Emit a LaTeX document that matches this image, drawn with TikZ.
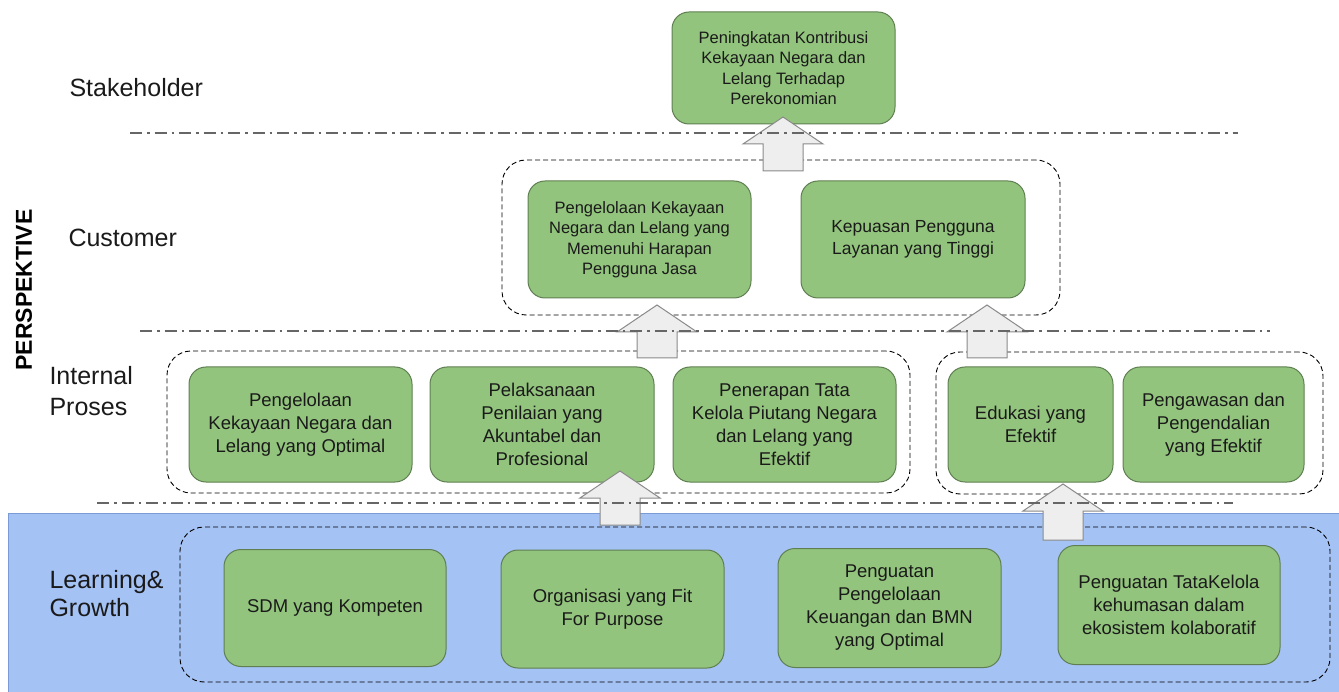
\documentclass[tikz,border=0pt]{standalone}
\usepackage{fontspec}
\setmainfont{Liberation Sans}
\usetikzlibrary{calc}
\definecolor{gfill}{HTML}{93C47D}
\definecolor{gline}{HTML}{5F7F52}
\definecolor{bfill}{HTML}{A4C2F4}
\definecolor{bline}{HTML}{7A9BD6}
\definecolor{afill}{HTML}{EEEEEE}
\definecolor{aline}{HTML}{8A8A8A}
\definecolor{ddline}{HTML}{666666}
\definecolor{txt}{HTML}{1A1A1A}
\tikzset{
  gbox/.style={draw=gline, fill=gfill, line width=1pt, rounded corners=17pt, align=center, text=txt, inner sep=0pt},
  grp/.style={draw=black, dash pattern=on 5pt off 3pt, line width=0.9pt, rounded corners=24pt, inner sep=0pt},
  lvl/.style={anchor=west, align=left, text=txt, font=\fontsize{25}{31}\selectfont},
  sepline/.style={draw=ddline, line width=2.6pt, dash pattern=on 12pt off 5pt on 2.5pt off 5pt},
  blk/.style={draw=aline, fill=afill, line width=1pt, line join=miter},
  fA/.style={font=\fontsize{16.5}{20.5}\selectfont},
  fB/.style={font=\fontsize{17.5}{22}\selectfont},
  fC/.style={font=\fontsize{18.5}{23}\selectfont},
}
\newcommand{\blockup}[2]{%
  \draw[blk] ([xshift=-20pt]#1) -- ([shift={(-20pt,-27pt)}]#2) -- ([shift={(-40pt,-27pt)}]#2) -- (#2)
    -- ([shift={(40pt,-27pt)}]#2) -- ([shift={(20pt,-27pt)}]#2) -- ([xshift=20pt]#1) -- cycle;}
\begin{document}
\begin{tikzpicture}[x=1pt,y=-1pt]
\path[use as bounding box] (0,0) rectangle (1339,692);
% learning band
\fill[bfill] (8,513) rectangle (1339,692);
\draw[bline, line width=1pt] (1339,513) -- (8,513) -- (8,692);

% groups
\node[grp, minimum width=558pt, minimum height=155pt] (cgrp) at (781,237.5) {};
\node[grp, minimum width=743pt, minimum height=142pt] (igrp1) at (538.5,422) {};
\node[grp, minimum width=387pt, minimum height=142pt] (igrp2) at (1129.5,423) {};
\node[grp, minimum width=1150pt, minimum height=155pt] (lgrp) at (755,604.5) {};

% boxes
\node[gbox, fA, minimum width=223pt, minimum height=112pt] (top) at (783.5,68)
  {Peningkatan Kontribusi\\Kekayaan Negara dan\\Lelang Terhadap\\Perekonomian};
\node[gbox, fA, minimum width=223pt, minimum height=117pt] (cA) at (639.5,239.5)
  {Pengelolaan Kekayaan\\Negara dan Lelang yang\\Memenuhi Harapan\\Pengguna Jasa};
\node[gbox, fB, minimum width=224pt, minimum height=117pt] (cB) at (913,239.5)
  {Kepuasan Pengguna\\Layanan yang Tinggi};

\node[gbox, fC, minimum width=223pt, minimum height=115pt] (b1) at (300.5,424.5)
  {Pengelolaan\\Kekayaan Negara dan\\Lelang yang Optimal};
\node[gbox, fC, minimum width=224pt, minimum height=115pt] (b2) at (542,424.5)
  {Pelaksanaan\\Penilaian yang\\Akuntabel dan\\Profesional};
\node[gbox, fC, minimum width=223pt, minimum height=115pt] (b3) at (784.5,424.5)
  {Penerapan Tata\\Kelola Piutang Negara\\dan Lelang yang\\Efektif};
\node[gbox, fC, minimum width=165pt, minimum height=115pt] (b4) at (1030.5,424.5)
  {Edukasi yang\\Efektif};
\node[gbox, fC, minimum width=181pt, minimum height=115pt] (b5) at (1213.5,424.5)
  {Pengawasan dan\\Pengendalian\\yang Efektif};

\node[gbox, fC, minimum width=222pt, minimum height=117pt] (l1) at (335,608)
  {SDM yang Kompeten};
\node[gbox, fC, minimum width=223pt, minimum height=118pt] (l2) at (612.5,609)
  {Organisasi yang Fit\\For Purpose};
\node[gbox, fC, minimum width=223pt, minimum height=119pt] (l3) at (889.5,608)
  {Penguatan\\Pengelolaan\\Keuangan dan BMN\\yang Optimal};
\node[gbox, fC, minimum width=222pt, minimum height=119pt] (l4) at (1169,605)
  {Penguatan TataKelola\\kehumasan dalam\\ekosistem kolaboratif};

% level labels
\node[lvl] (lstake) at (66,88) {Stakeholder};
\node[lvl] (lcust) at (65,238) {Customer};
\node[lvl] (lint) at (46,391.5) {Internal\\Proses};
\node[lvl, font=\fontsize{25}{28}\selectfont] (llearn) at (46,594) {Learning\&\\Growth};
\node[rotate=90, text=black, font=\bfseries\fontsize{23}{23}\selectfont] (persp) at (24,290) {PERSPEKTIVE};

% arrows
\coordinate (a1t) at (783,117);  \coordinate (a1s) at (783,171);
\coordinate (a2t) at (657,305);  \coordinate (a2s) at (657,358);
\coordinate (a3t) at (987,305);  \coordinate (a3s) at (987,358);
\coordinate (a4t) at (620,471);  \coordinate (a4s) at (620,525);
\coordinate (a5t) at (1063,484); \coordinate (a5s) at (1063,540);
\blockup{a1s}{a1t}
\blockup{a2s}{a2t}
\blockup{a3s}{a3t}
\blockup{a4s}{a4t}
\blockup{a5s}{a5t}

% separators
\draw[sepline] (130,133) -- (1238,133);
\draw[sepline] (140,331) -- (1270,331);
\draw[sepline] (97,503) -- (1233,503);
\end{tikzpicture}
\end{document}
